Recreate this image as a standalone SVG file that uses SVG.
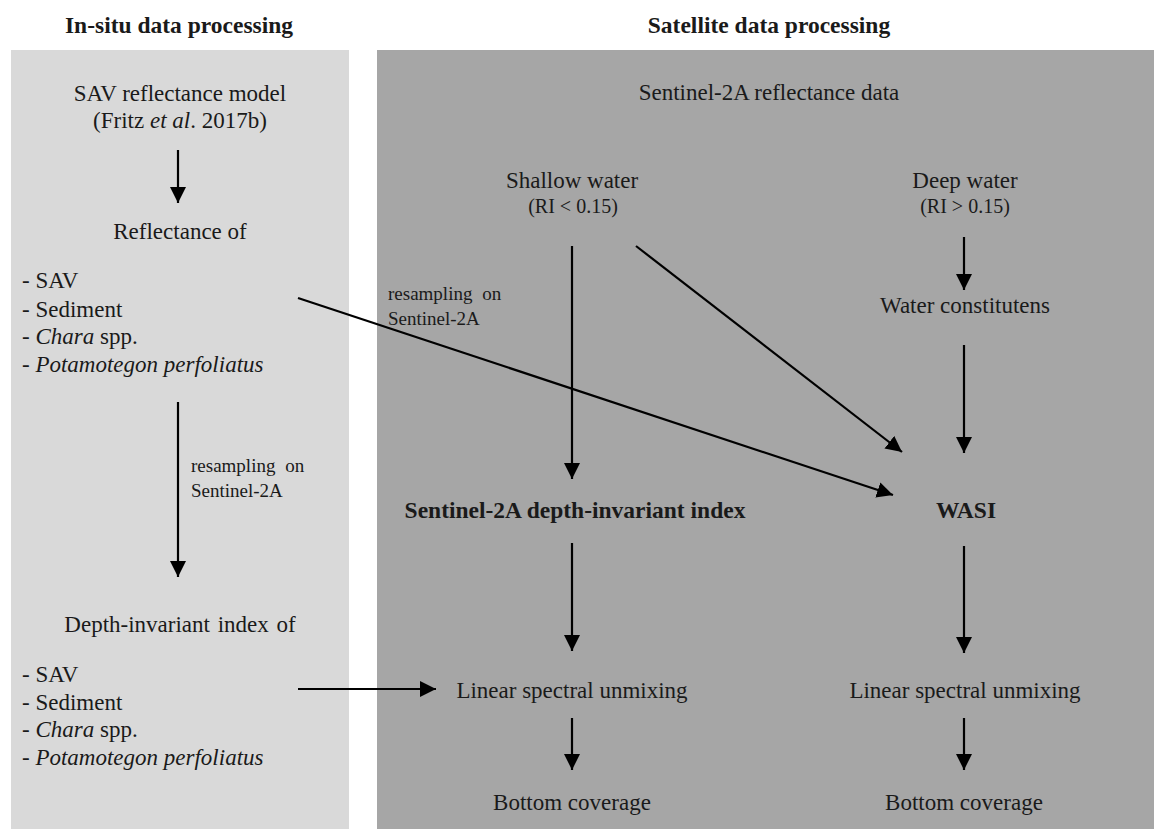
<svg xmlns="http://www.w3.org/2000/svg" width="1154" height="829" viewBox="0 0 1154 829">
<style>
text{font-family:"Liberation Serif","Times New Roman",serif;fill:#1a1a1a}
.t{font-size:23px}
.m{text-anchor:middle}
.s{font-size:19px}
.r{font-size:20px}
.b{font-weight:bold;font-size:23.5px}
.h{font-weight:bold;font-size:23.5px}
.c{stroke:#000;stroke-width:2.2;fill:none;marker-end:url(#ah)}
</style>
<defs>
<marker id="ah" markerUnits="userSpaceOnUse" markerWidth="16" markerHeight="16" viewBox="0 0 16 16" refX="16" refY="8" orient="auto">
<path d="M0,0 L16,8 L0,16 z" fill="#000"/>
</marker>
</defs>
<rect width="1154" height="829" fill="#fff"/>
<g id="panel-insitu">
<rect x="11" y="50" width="338" height="779" fill="#d9d9d9"/>
<text class="h m" x="179" y="33">In-situ data processing</text>
</g>
<g id="panel-satellite">
<rect x="377" y="50" width="777" height="779" fill="#a6a6a6"/>
<text class="h m" x="769" y="33">Satellite data processing</text>
</g>
<g id="n-model"><text class="t m" x="180" y="101">SAV reflectance model</text><text class="t m" x="180" y="128">(Fritz <tspan font-style="italic">et al</tspan>. 2017b)</text></g>
<g id="n-reflectance">
<text class="t m" x="180" y="239">Reflectance of</text>
<text class="t" x="22" y="288">- SAV</text>
<text class="t" x="22" y="317">- Sediment</text>
<text class="t" x="22" y="344">- <tspan font-style="italic">Chara</tspan> spp.</text>
<text class="t" x="22" y="372">- <tspan font-style="italic">Potamotegon perfoliatus</tspan></text>
</g>
<g id="n-depth">
<text class="t m" x="180" y="632" word-spacing="2">Depth-invariant index of</text>
<text class="t" x="22" y="682">- SAV</text>
<text class="t" x="22" y="710">- Sediment</text>
<text class="t" x="22" y="737">- <tspan font-style="italic">Chara</tspan> spp.</text>
<text class="t" x="22" y="765">- <tspan font-style="italic">Potamotegon perfoliatus</tspan></text>
</g>
<g id="n-s2data"><text class="t m" x="769" y="100">Sentinel-2A reflectance data</text></g>
<g id="n-shallow"><text class="t m" x="572" y="188">Shallow water</text><text class="r m" x="573" y="213">(RI &lt; 0.15)</text></g>
<g id="n-deep"><text class="t m" x="965" y="188">Deep water</text><text class="r m" x="965" y="213">(RI &gt; 0.15)</text></g>
<g id="n-water"><text class="t m" x="965" y="313">Water constitutens</text></g>
<g id="n-s2index"><text class="b m" x="575" y="518">Sentinel-2A depth-invariant index</text></g>
<g id="n-wasi"><text class="b m" x="966" y="518">WASI</text></g>
<g id="n-lsu1"><text class="t m" x="572" y="698">Linear spectral unmixing</text></g>
<g id="n-lsu2"><text class="t m" x="965" y="698">Linear spectral unmixing</text></g>
<g id="n-bc1"><text class="t m" x="572" y="810">Bottom coverage</text></g>
<g id="n-bc2"><text class="t m" x="964" y="810">Bottom coverage</text></g>
<g id="connectors">
<line class="c" x1="178" y1="150" x2="178" y2="203"/>
<line class="c" x1="178" y1="402" x2="178" y2="577"/>
<text class="s" x="191" y="472" word-spacing="5">resampling on</text>
<text class="s" x="191" y="497">Sentinel-2A</text>
<line class="c" x1="298" y1="298" x2="893" y2="495"/>
<text class="s" x="388" y="300" word-spacing="5">resampling on</text>
<text class="s" x="388" y="325">Sentinel-2A</text>
<line class="c" x1="298" y1="689" x2="436" y2="689"/>
<line class="c" x1="572" y1="246" x2="572" y2="479"/>
<line class="c" x1="636" y1="246" x2="902" y2="452"/>
<line class="c" x1="964" y1="237" x2="964" y2="290"/>
<line class="c" x1="964" y1="345" x2="964" y2="453"/>
<line class="c" x1="572" y1="543" x2="572" y2="651"/>
<line class="c" x1="964" y1="546" x2="964" y2="653"/>
<line class="c" x1="572" y1="718" x2="572" y2="770"/>
<line class="c" x1="964" y1="718" x2="964" y2="770"/>
</g>
</svg>
